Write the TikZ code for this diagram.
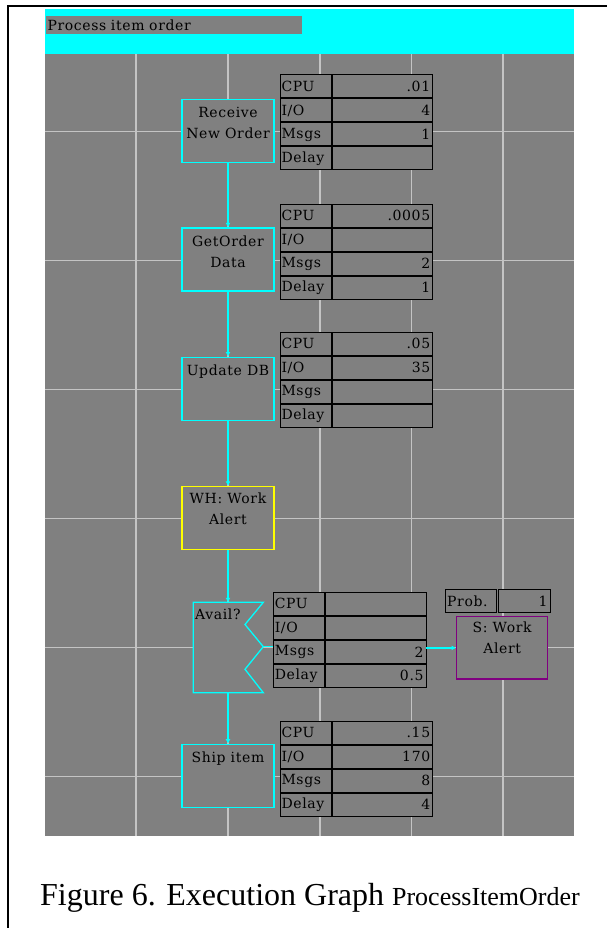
\documentclass[tikz,border=0pt]{standalone}
\usepackage{fontspec}
\setmainfont{Liberation Serif}
\newfontfamily\bmfont[LetterSpace=4.5]{DejaVu Serif}
\usetikzlibrary{arrows.meta}
\definecolor{bggray}{HTML}{808080}
\definecolor{gridc}{HTML}{C4C4C4}
\definecolor{cyanc}{HTML}{00FFFF}
\definecolor{yelc}{HTML}{FFFF00}
\definecolor{purc}{HTML}{800080}
\tikzset{
  gridline/.style={draw=gridc, line width=1.2pt},
  procbox/.style={draw=cyanc, line width=1.3pt, fill=bggray, minimum width=92pt, minimum height=63pt, inner sep=0pt},
  boxtext/.style={font=\bmfont\fontsize{14}{20.5}\selectfont, align=center, inner sep=0pt},
  lcell/.style={anchor=north west, draw=black, line width=1pt, fill=bggray, minimum width=51pt, minimum height=23pt,
    outer sep=0pt, inner xsep=1.5pt, inner ysep=0pt, text width=48pt, align=left, font=\bmfont\fontsize{14}{15}\selectfont},
  rcell/.style={anchor=north west, draw=black, line width=1pt, fill=bggray, minimum width=100.7pt, minimum height=23pt,
    outer sep=0pt, inner xsep=2.5pt, inner ysep=0pt, text width=95.7pt, align=right, font=\bmfont\fontsize{14}{15}\selectfont},
  flow/.style={draw=cyanc, line width=1.3pt, -{Latex[length=4.5pt,width=5pt]}},
  plainflow/.style={draw=cyanc, line width=1.3pt},
}
\newcommand\prow[5]{%
  \node[lcell] (#1l) at ({#2},{#3}) {#4};
  \node[rcell] (#1v) at ({#2+52},{#3}) {#5};}
\newcommand\ptab[7]{%
  \prow{#1-cpu}{#2}{#3}{CPU}{#4}
  \prow{#1-io}{#2}{#3+24}{I/O}{#5}
  \prow{#1-msgs}{#2}{#3+48}{Msgs}{#6}
  \prow{#1-delay}{#2}{#3+72}{Delay}{#7}}
\begin{document}
\begin{tikzpicture}[x=1pt,y=-1pt]
\useasboundingbox (0,0) rectangle (607,928);
\fill[white] (0,0) rectangle (607,928);
% frame
\draw[line width=2pt] (8,928) -- (8,5.7) -- (607,5.7);
% header and canvas
\fill[cyanc] (44.5,9.5) rectangle (573.5,54);
\fill[bggray] (44.5,54) rectangle (573.5,836);
\node[anchor=north west, fill=bggray, minimum width=256pt, minimum height=18pt, outer sep=0pt, inner xsep=1.5pt,
  inner ysep=0pt, text width=253pt, align=left, font=\bmfont\fontsize{14}{15}\selectfont] (title) at (46,16) {Process item order};
% grid
\foreach \gx in {136,228,320,411.5,503} \draw[gridline] (\gx,54) -- (\gx,836);
\foreach \gy in {131.5,260.5,389.5,518.5,647.5,776.5} \draw[gridline] (44.5,\gy) -- (573.5,\gy);
% process boxes
\node[procbox, label={[boxtext, anchor=north, yshift=-8.5pt]north:Receive\\New Order}] (recv) at (228,130.7) {};
\node[procbox, label={[boxtext, anchor=north, yshift=-8.5pt]north:GetOrder\\Data}] (getord) at (228,259.5) {};
\node[procbox, label={[boxtext, anchor=north, yshift=-8.5pt]north:Update DB}] (upd) at (228,388.7) {};
\node[procbox, draw=yelc, label={[boxtext, anchor=north, yshift=-7pt]north:WH: Work\\Alert}] (wh) at (228,518) {};
\node[procbox, label={[boxtext, anchor=north, yshift=-8.5pt]north:Ship item}] (ship) at (228,775.8) {};
\node[procbox, draw=purc, minimum width=91pt, minimum height=62.3pt, label={[boxtext, anchor=north, yshift=-6pt]north:S: Work\\Alert}] (swork) at (502.2,647.9) {};
% decision shape
\filldraw[draw=cyanc, fill=bggray, line width=1.3pt] (193.3,602.3) -- (263.3,602.3) -- (245,624.5) -- (263.3,646.7)
  -- (245,669.3) -- (263.3,692.7) -- (193.3,692.7) -- cycle;
\node[anchor=north west, inner sep=0pt, font=\bmfont\fontsize{14}{15}\selectfont] (avail) at (195,609) {Avail?};
\coordinate (availT) at (228,602.3);
\coordinate (availB) at (228,692.7);
\coordinate (availR) at (263.3,646.7);
% tables
\ptab{t1}{280}{75}{.01}{4}{1}{}
\ptab{t2}{280}{204}{.0005}{}{2}{1}
\ptab{t3}{280}{332.3}{.05}{35}{}{}
\ptab{t4}{273.3}{592.3}{}{}{2}{0.5}
\ptab{t6}{280}{721}{.15}{170}{8}{4}
\node[lcell] (probl) at (445.7,589.3) {Prob.};
\node[rcell, minimum width=51.7pt, text width=46.7pt] (probv) at (498.3,589.3) {1};
% connectors
\draw[flow] (recv.south) -- (getord.north);
\draw[flow] (getord.south) -- (upd.north);
\draw[flow] (upd.south) -- (wh.north);
\draw[flow] (wh.south) -- (availT);
\draw[flow] (availB) -- (ship.north);
\draw[plainflow] (availR) -- (availR -| t4-msgsl.west);
\draw[flow] (t4-msgsv.east |- swork.west) -- (swork.west);
% caption
\node[anchor=base west, inner sep=0pt] (caption) at (40,905)
  {\fontsize{32}{32}\selectfont Figure 6. Execution Graph \fontsize{26}{26}\selectfont ProcessItemOrder};
\end{tikzpicture}
\end{document}
